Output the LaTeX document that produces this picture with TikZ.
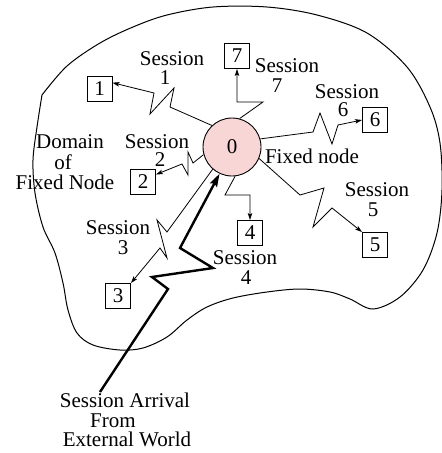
\documentclass[tikz,border=0pt]{standalone}
\usepackage{fontspec}
\setmainfont{Liberation Serif}
\usetikzlibrary{arrows.meta,calc}
\definecolor{pinkfill}{RGB}{249,214,214}
\begin{document}
\begin{tikzpicture}[x=1pt,y=-1pt,
  lbl/.style={font=\fontsize{21}{22}\selectfont, inner sep=0pt},
  sbox/.style={draw, line width=0.9pt, minimum width=25pt, minimum height=25pt, inner sep=0pt, font=\fontsize{21}{22}\selectfont},
  conn/.style={line width=0.8pt, line join=miter, -{Stealth[length=7pt,width=4.5pt,inset=1.5pt]}},
  thickarrow/.style={line width=2.4pt, line join=miter, -{Stealth[length=13pt,width=8pt,inset=2pt]}},
  outline/.style={line width=1pt}
]
\useasboundingbox (0,0) rectangle (442,453);
% domain outline
\draw[outline] plot[smooth, tension=0.55] coordinates {
 (42,95) (67,66) (100,43) (133,27) (167,15) (213,7) (267,7) (317,15) (367,33)
 (407,67) (430,107) (440,143) (442,190) (437,233) (423,270) (400,297) (373,309)
 (350,299) (330,292) (300,289) (267,292) (233,298) (207,307) (187,320) (167,337)
 (143,348) (120,350) (93,345) (77,333) (68,310) (63,283) (55,253) (43,227)
 (35,193) (33,160) (37,127) (42,95)};
% fixed node
\node[circle, draw, line width=0.9pt, fill=pinkfill, minimum size=58pt, inner sep=0pt,
      font=\fontsize{21}{22}\selectfont] (fn) at (232,147) {0};
% boxes
\node[sbox] (b1) at (99.5,89) {1};
\node[sbox] (b2) at (143,182) {2};
\node[sbox] (b3) at (118,296) {3};
\node[sbox] (b4) at (250,233) {4};
\node[sbox] (b5) at (375,245) {5};
\node[sbox] (b6) at (375,120) {6};
\node[sbox] (b7) at (237,56) {7};
% labels
\node[lbl] (s1a) at (172,59) {Session};
\node[lbl] (s1b) at (165,78) {1};
\node[lbl] (s7a) at (287,66) {Session};
\node[lbl] (s7b) at (277,86) {7};
\node[lbl] (s6a) at (347,92) {Session};
\node[lbl] (s6b) at (343,110) {6};
\node[lbl] (s2a) at (157,142) {Session};
\node[lbl] (s2b) at (160,160) {2};
\node[lbl] (s5a) at (377,190) {Session};
\node[lbl] (s5b) at (373,210) {5};
\node[lbl] (s3a) at (118,228) {Session};
\node[lbl] (s3b) at (123,248) {3};
\node[lbl] (s4a) at (245,258) {Session};
\node[lbl] (s4b) at (246,278) {4};
\node[lbl] (fxl) at (312,156) {Fixed node};
\node[lbl] (d1) at (70,142) {Domain};
\node[lbl] (d2) at (63,162) {of};
\node[lbl] (d3) at (65,182) {Fixed Node};
\node[lbl] (e1) at (125,400) {Session Arrival};
\node[lbl] (e2) at (113,421) {From};
\node[lbl] (e3) at (127,439) {External World};
% connectors
\draw[conn] (fn.133) -- (170,107) -- (174,88) -- (150,114) -- (154,93) -- (b1.26);
\draw[conn] (fn.195) -- (193,163) -- (188,152) -- (188,175) -- (182,164) -- (b2.30);
\draw[conn] (fn.229) -- (167,232) -- (157,220) -- (167,258) -- (160,248) -- (b3.north east);
\draw[conn] (fn.-84) -- (225,195) -- (250,195) -- (b4.north);
\draw[conn] (fn.-23) -- (300,195) -- (324,188) -- (313,227) -- (332,208) -- (b5.north west);
\draw[conn] (fn.16) -- (313,132) -- (320,113) -- (332,144) -- (338,125) -- (b6.west);
\draw[conn] (fn.75) -- (263,102) -- (237,102) -- (b7.south);
% session arrival
\coordinate (src) at (100,392);
\draw[thickarrow] (src) -- (168,289) -- (152,277) -- (213,268) -- (180,248) -- (fn.245);
\end{tikzpicture}
\end{document}
